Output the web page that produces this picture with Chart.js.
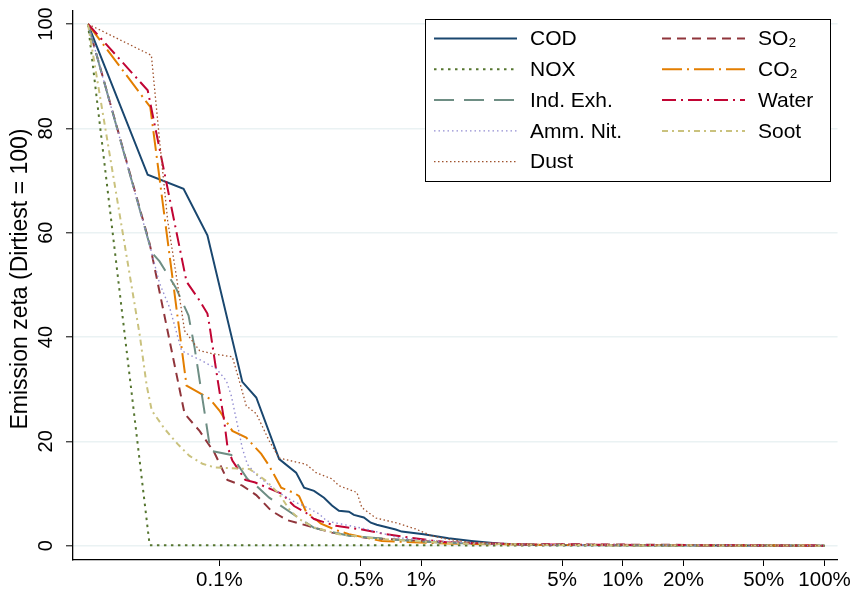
<!DOCTYPE html>
<html>
<head>
<meta charset="utf-8">
<title>Emission zeta</title>
<script src="https://cdn.jsdelivr.net/npm/chart.js@4.4.1/dist/chart.umd.min.js"></script>
<style>
  html, body { margin: 0; padding: 0; background: #fff; }
  #zeta { display: block; }
</style>
</head>
<body>
<canvas id="zeta" width="855" height="592"></canvas>
<script>
// x: share of plants, ranked dirtiest first (%, log scale); y: emission index, dirtiest = 100
const codX = [0.0223, 0.0441, 0.0664, 0.0872, 0.1299, 0.1523, 0.1978, 0.2400, 0.2629, 0.2945, 0.3300, 0.3614, 0.3914, 0.4385, 0.4642, 0.5200, 0.5631, 0.6028, 0.7482, 0.8011, 1.029, 1.367, 1.776, 2.414, 3.513, 100]
const codY = [100, 71.1, 68.4, 59.5, 31.4, 28.4, 16.6, 14.0, 11.1, 10.5, 9.2, 7.7, 6.7, 6.5, 5.9, 5.4, 4.4, 4.0, 3.1, 2.7, 2.2, 1.4, 0.9, 0.4, 0.13, 0]

const so2X = [0.0223, 0.0451, 0.0672, 0.0797, 0.0945, 0.1095, 0.1299, 0.1523, 0.1806, 0.2167, 0.2570, 0.3614, 0.5320, 0.9721, 2.414, 100]
const so2Y = [100, 57.9, 25.3, 22.0, 17.8, 12.6, 11.5, 9.7, 6.7, 4.9, 4.1, 2.5, 1.5, 0.9, 0.33, 0]

const noxX = [0.0223, 0.0451, 100]
const noxY = [100, 0.1, 0]

const co2X = [0.0223, 0.0454, 0.0687, 0.0893, 0.1, 0.1159, 0.1359, 0.1612, 0.1765, 0.2024, 0.2346, 0.2484, 0.2690, 0.2945, 0.3189, 0.3783, 0.4385, 0.6381, 1.367, 4.262, 100]
const co2Y = [100, 84.1, 30.7, 28.2, 25.9, 22.0, 20.7, 17.6, 15.3, 11.1, 10.1, 9.5, 6.5, 5.3, 4.2, 3.0, 2.2, 0.9, 0.4, 0.13, 0]

const indX = [0.0223, 0.0462, 0.0505, 0.0607, 0.0703, 0.0753, 0.0903, 0.1146, 0.1375, 0.1523, 0.1765, 0.2268, 0.2945, 0.4385, 0.7743, 1.367, 4.262, 100]
const indY = [100, 56.2, 54.5, 49.5, 44.1, 38.0, 18.2, 17.4, 12.8, 11.5, 9.2, 6.3, 3.4, 1.9, 1.1, 0.5, 0.13, 0]

const waterX = [0.0223, 0.0441, 0.0687, 0.0797, 0.0872, 0.0893, 0.0978, 0.1059, 0.1095, 0.1159, 0.1344, 0.1506, 0.2047, 0.2346, 0.2690, 0.2945, 0.3783, 0.5084, 0.6679, 0.8874, 1.367, 3.395, 100]
const waterY = [100, 87.3, 50.6, 47.0, 44.5, 42.2, 32.0, 23.6, 19.1, 16.3, 12.6, 12.1, 9.9, 7.6, 6.3, 5.1, 3.8, 3.1, 2.2, 1.5, 0.6, 0.23, 0]

const ammX = [0.0223, 0.0451, 0.0505, 0.0567, 0.0649, 0.0727, 0.0815, 0.0967, 0.1083, 0.1146, 0.1299, 0.1375, 0.1523, 0.1912, 0.2294, 0.2629, 0.3118, 0.3414, 0.5320, 0.6381, 0.7743, 1.367, 3.030, 100]
const ammY = [100, 57.6, 50.3, 45.6, 37.4, 36.4, 35.5, 33.9, 31.6, 28.7, 18.7, 15.6, 13.6, 10.5, 8.6, 7.6, 6.1, 4.7, 3.2, 2.4, 1.5, 0.7, 0.23, 0]

const sootX = [0.0223, 0.0403, 0.0436, 0.0462, 0.0535, 0.0620, 0.0711, 0.0824, 0.0945, 0.1406, 0.1523, 0.1706, 0.1978, 0.2217, 0.2484, 0.2945, 0.3914, 0.6167, 1.367, 4.262, 100]
const sootY = [100, 40.3, 30.7, 25.9, 22.4, 19.5, 17.2, 15.7, 15.0, 14.7, 13.8, 12.4, 9.9, 7.0, 5.1, 3.5, 2.2, 1.3, 0.5, 0.13, 0]

const dustX = [0.0223, 0.0460, 0.0505, 0.0554, 0.0611, 0.0672, 0.0797, 0.0923, 0.1159, 0.1255, 0.1359, 0.1523, 0.1765, 0.1978, 0.2484, 0.2690, 0.3013, 0.3614, 0.3914, 0.4803, 0.5084, 0.5960, 0.7482, 0.9393, 1.1271, 1.367, 1.776, 3.030, 100]
const dustY = [100, 94.0, 77.7, 62.3, 51.8, 41.2, 37.4, 36.8, 36.2, 31.6, 26.8, 25.3, 20.1, 16.8, 15.9, 15.6, 14.0, 12.8, 11.5, 10.2, 7.3, 5.3, 4.4, 3.2, 1.9, 1.2, 0.6, 0.23, 0]

const xTicks = [0.1, 0.5, 1, 5, 10, 20, 50, 100]
const yTicks = [0, 20, 40, 60, 80, 100]
const yTitle = 'Emission zeta (Dirtiest = 100)'

const font = "'Liberation Sans', Arial, Helvetica, sans-serif"
Chart.defaults.font.family = font
Chart.defaults.color = '#000'

// stata-ish s2color palette and line patterns
const series = [
    {label: 'COD', xs: codX, ys: codY, color: '#1a476f', dash: [], width: 2},
    {label: 'SO\u2082', xs: so2X, ys: so2Y, color: '#90353b', dash: [9, 6], width: 2},
    {label: 'NOX', xs: noxX, ys: noxY, color: '#55752f', dash: [2.5, 4.5], width: 2},
    {label: 'CO\u2082', xs: co2X, ys: co2Y, color: '#e37e00', dash: [20, 5, 2, 5], width: 2},
    {label: 'Ind. Exh.', xs: indX, ys: indY, color: '#6e8e84', dash: [20, 10], width: 2},
    {label: 'Water', xs: waterX, ys: waterY, color: '#c10534', dash: [14, 5, 2, 5], width: 2},
    {label: 'Amm. Nit.', xs: ammX, ys: ammY, color: '#938dd2', dash: [1.5, 3], width: 1.4},
    {label: 'Soot', xs: sootX, ys: sootY, color: '#cac27e', dash: [6, 4, 2, 4], width: 2},
    {label: 'Dust', xs: dustX, ys: dustY, color: '#a0522d', dash: [1.5, 2.5], width: 1.3},
]

const datasets = series.map((s, i) => ({
    label: s.label,
    data: s.xs.map((x, j) => ({x: x, y: s.ys[j]})),
    borderColor: s.color,
    borderDash: s.dash,
    borderWidth: s.width,
    borderCapStyle: 'butt',
    pointRadius: 0,
    fill: false,
    tension: 0,
    order: series.length - i,   // later series on top
}))

// white background, rotated y labels/title and the boxed two-column key
const frame = {
    id: 'frame',
    beforeDraw(chart) {
        const ctx = chart.ctx
        ctx.save()
        ctx.fillStyle = '#fff'
        ctx.fillRect(0, 0, chart.width, chart.height)
        ctx.restore()
    },
    afterDraw(chart) {
        const ctx = chart.ctx
        const ys = chart.scales.y
        ctx.save()
        ctx.fillStyle = '#000'
        ctx.textAlign = 'center'
        ctx.textBaseline = 'middle'

        ctx.font = '20px ' + font
        yTicks.forEach(v => {
            ctx.save()
            ctx.translate(46, ys.getPixelForValue(v))
            ctx.rotate(-Math.PI / 2)
            ctx.fillText(String(v), 0, 0)
            ctx.restore()
        })

        ctx.save()
        ctx.font = '23px ' + font
        ctx.translate(21, 279)
        ctx.rotate(-Math.PI / 2)
        ctx.fillText(yTitle, 0, 0)
        ctx.restore()

        // key
        const box = {x: 425.5, y: 19.5, w: 405, h: 162}
        ctx.fillStyle = '#fff'
        ctx.fillRect(box.x, box.y, box.w, box.h)
        ctx.strokeStyle = '#000'
        ctx.lineWidth = 1
        ctx.strokeRect(box.x, box.y, box.w, box.h)

        const cols = [{x0: 434, x1: 517, tx: 530}, {x0: 662, x1: 745, tx: 758}]
        ctx.textAlign = 'left'
        ctx.font = '21px ' + font
        chart.data.datasets.forEach((d, i) => {
            const c = cols[i % 2]
            const y = 38.5 + Math.floor(i / 2) * 30.8
            ctx.save()
            ctx.strokeStyle = d.borderColor
            ctx.lineWidth = d.borderWidth
            ctx.setLineDash(d.borderDash)
            ctx.beginPath()
            ctx.moveTo(c.x0, y)
            ctx.lineTo(c.x1, y)
            ctx.stroke()
            ctx.restore()
            ctx.fillStyle = '#000'
            ctx.fillText(d.label, c.tx, y + 1)
        })
        ctx.restore()
    }
}

const ctx = document.getElementById('zeta')
const chart = new Chart(ctx, {
    type: 'line',
    data: {datasets: datasets},
    options: {
        responsive: false,
        animation: false,
        layout: {padding: {left: 66, top: 11, right: 14, bottom: -2.5}},
        plugins: {legend: {display: false}, tooltip: {enabled: false}},
        scales: {
            x: {
                type: 'logarithmic',
                min: 0.0188,
                max: 116,
                afterBuildTicks: scale => { scale.ticks = xTicks.map(v => ({value: v})) },
                ticks: {
                    autoSkip: false,
                    maxRotation: 0,
                    padding: 4,
                    font: {size: 20.5, lineHeight: 1},
                    color: '#000',
                    callback: v => v + '%',
                },
                grid: {display: true, drawOnChartArea: false, drawTicks: true, tickLength: 6, tickColor: '#000', tickWidth: 1},
                border: {display: true, color: '#000', width: 1.3},
            },
            y: {
                type: 'linear',
                min: -2.75,
                max: 102.5,
                afterBuildTicks: scale => { scale.ticks = yTicks.map(v => ({value: v})) },
                ticks: {display: false},
                grid: {color: '#eaf2f3', lineWidth: 1.6, drawTicks: true, tickLength: 7, tickColor: '#000', tickWidth: 1},
                border: {display: true, color: '#000', width: 1.3},
            }
        }
    },
    plugins: [frame]
})
</script>
</body>
</html>
